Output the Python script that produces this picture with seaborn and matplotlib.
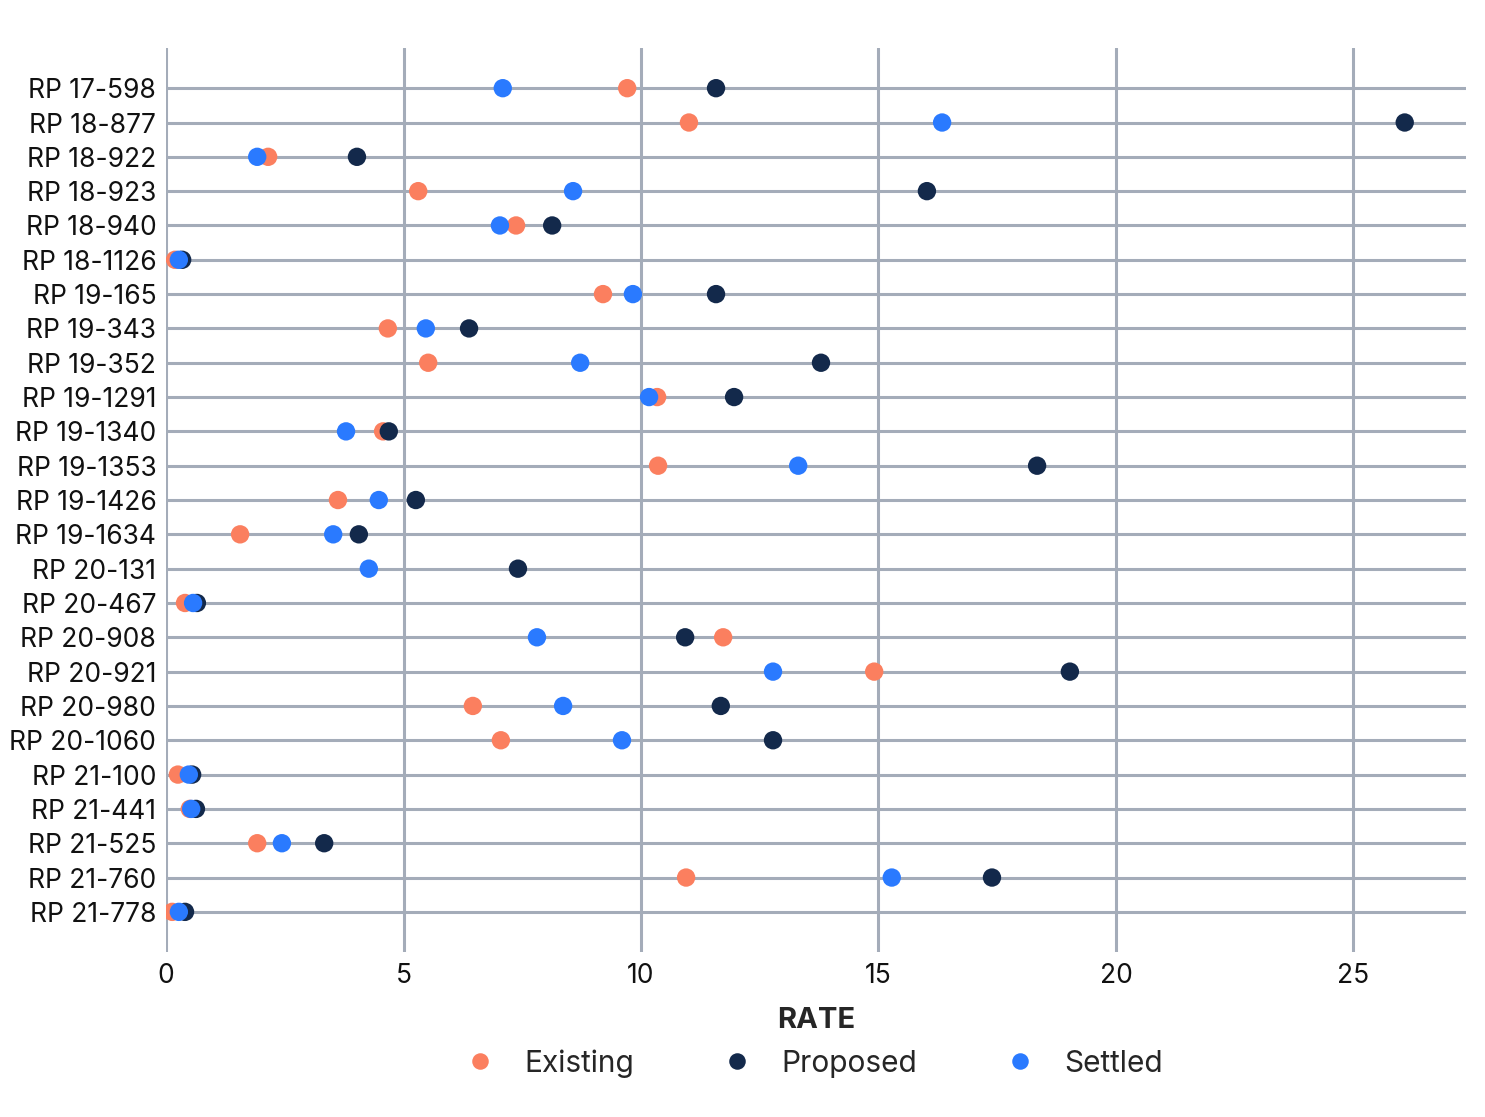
import numpy as np
import pandas as pd
import seaborn as sns
import matplotlib.pyplot as plt

cases = ["RP 17-598", "RP 18-877", "RP 18-922", "RP 18-923", "RP 18-940",
         "RP 18-1126", "RP 19-165", "RP 19-343", "RP 19-352", "RP 19-1291",
         "RP 19-1340", "RP 19-1353", "RP 19-1426", "RP 19-1634", "RP 20-131",
         "RP 20-467", "RP 20-908", "RP 20-921", "RP 20-980", "RP 20-1060",
         "RP 21-100", "RP 21-441", "RP 21-525", "RP 21-760", "RP 21-778"]

existing = [9.71, 11.01, 2.15, 5.31, 7.37, 0.19, 9.20, 4.67, 5.52, 10.34,
            4.57, 10.36, 3.62, 1.56, np.nan, 0.40, 11.73, 14.91, 6.46, 7.05,
            0.25, 0.50, 1.92, 10.95, 0.13]
proposed = [11.58, 26.08, 4.02, 16.02, 8.13, 0.34, 11.58, 6.38, 13.79, 11.96,
            4.69, 18.34, 5.26, 4.06, 7.41, 0.65, 10.93, 19.03, 11.68, 12.78,
            0.55, 0.63, 3.33, 17.39, 0.40]
settled = [7.09, 16.34, 1.92, 8.57, 7.03, 0.27, 9.83, 5.47, 8.72, 10.17,
           3.79, 13.31, 4.48, 3.52, 4.27, 0.57, 7.81, 12.78, 8.36, 9.60,
           0.48, 0.53, 2.44, 15.28, 0.27]

df = pd.DataFrame({"case": cases, "Existing": existing,
                   "Proposed": proposed, "Settled": settled})
long = df.melt(id_vars="case", var_name="type", value_name="rate").dropna()
long["case"] = pd.Categorical(long["case"], categories=cases)

sns.set_style("white")
plt.rcParams["font.family"] = ["Inter", "DejaVu Sans"]

palette = {"Existing": "#fb7f5f", "Proposed": "#13294b", "Settled": "#2a7aff"}
grid_col = "#a4acb9"

fig = plt.figure(figsize=(14.85, 11.17), dpi=100)
ax = fig.add_axes([0.1118, 0.1477, 0.8754, 0.8093])

# row guide lines and vertical grid
for i in range(len(cases)):
    ax.axhline(i, color=grid_col, linewidth=2.2, zorder=0)
for xv in [0, 5, 10, 15, 20, 25]:
    ax.axvline(xv, color=grid_col, linewidth=2.2, zorder=0)

sns.scatterplot(data=long, x="rate", y="case", hue="type",
                hue_order=["Existing", "Proposed", "Settled"],
                palette=palette, s=175, linewidth=0, ax=ax, zorder=3)

ax.set_xlim(0, 27.37)
ax.set_ylim(len(cases) - 1 + 1.17, -1.17)
ax.set_xticks([0, 5, 10, 15, 20, 25])
for s in ax.spines.values():
    s.set_visible(False)
ax.tick_params(axis="both", length=0, labelsize=19, colors="#111111")
ax.tick_params(axis="y", pad=7)
ax.tick_params(axis="x", pad=8)
ax.set_ylabel("")
ax.set_xlabel("RATE", fontsize=21, fontweight="bold", labelpad=13)

handles, labels = ax.get_legend_handles_labels()
ax.legend(handles, labels, loc="upper center", bbox_to_anchor=(0.493, -0.078),
          ncol=3, frameon=False, fontsize=21.5, markerscale=0.9,
          columnspacing=2.45, handletextpad=0.48)

fig.savefig("out.png", dpi=100, facecolor="white")
